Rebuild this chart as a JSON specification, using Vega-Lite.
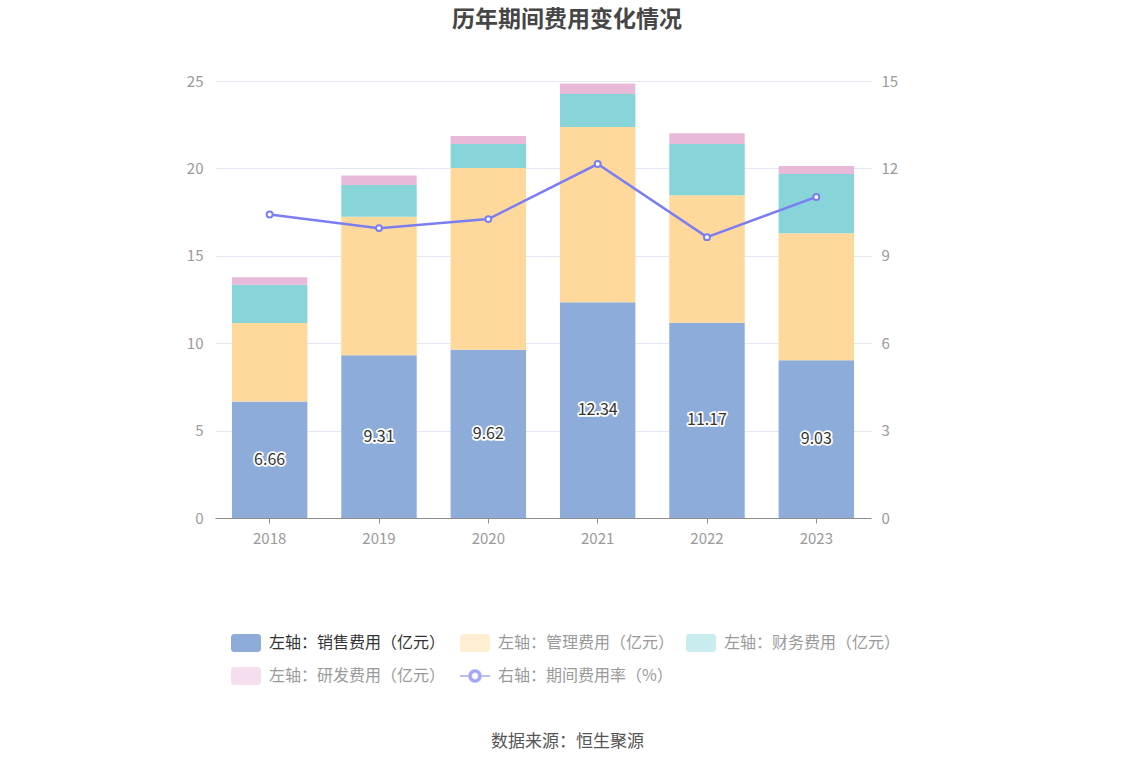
{
  "$schema": "https://vega.github.io/schema/vega-lite/v6.json",
  "autosize": {"type": "none"},
  "width": 656,
  "height": 437,
  "padding": {"left": 215, "top": 81, "right": 263, "bottom": 248},
  "background": "white",
  "config": {
    "view": {"stroke": null},
    "font": "Noto Sans CJK SC",
    "axis": {"labelFont": "Noto Sans CJK SC", "labelColor": "#9a9a9a", "labelFontSize": 15}
  },
  "title": {
    "text": "历年期间费用变化情况",
    "fontSize": 23,
    "fontWeight": "bold",
    "color": "#464646",
    "anchor": "middle",
    "dx": 24,
    "offset": 42
  },
  "datasets": {
    "costs": [
      {"year": "2018", "series": "左轴：销售费用（亿元）", "ord": 1, "value": 6.66},
      {"year": "2018", "series": "左轴：管理费用（亿元）", "ord": 2, "value": 4.49},
      {"year": "2018", "series": "左轴：财务费用（亿元）", "ord": 3, "value": 2.2},
      {"year": "2018", "series": "左轴：研发费用（亿元）", "ord": 4, "value": 0.43},
      {"year": "2019", "series": "左轴：销售费用（亿元）", "ord": 1, "value": 9.31},
      {"year": "2019", "series": "左轴：管理费用（亿元）", "ord": 2, "value": 7.93},
      {"year": "2019", "series": "左轴：财务费用（亿元）", "ord": 3, "value": 1.81},
      {"year": "2019", "series": "左轴：研发费用（亿元）", "ord": 4, "value": 0.54},
      {"year": "2020", "series": "左轴：销售费用（亿元）", "ord": 1, "value": 9.62},
      {"year": "2020", "series": "左轴：管理费用（亿元）", "ord": 2, "value": 10.4},
      {"year": "2020", "series": "左轴：财务费用（亿元）", "ord": 3, "value": 1.38},
      {"year": "2020", "series": "左轴：研发费用（亿元）", "ord": 4, "value": 0.46},
      {"year": "2021", "series": "左轴：销售费用（亿元）", "ord": 1, "value": 12.34},
      {"year": "2021", "series": "左轴：管理费用（亿元）", "ord": 2, "value": 10.03},
      {"year": "2021", "series": "左轴：财务费用（亿元）", "ord": 3, "value": 1.89},
      {"year": "2021", "series": "左轴：研发费用（亿元）", "ord": 4, "value": 0.59},
      {"year": "2022", "series": "左轴：销售费用（亿元）", "ord": 1, "value": 11.17},
      {"year": "2022", "series": "左轴：管理费用（亿元）", "ord": 2, "value": 7.29},
      {"year": "2022", "series": "左轴：财务费用（亿元）", "ord": 3, "value": 2.94},
      {"year": "2022", "series": "左轴：研发费用（亿元）", "ord": 4, "value": 0.61},
      {"year": "2023", "series": "左轴：销售费用（亿元）", "ord": 1, "value": 9.03},
      {"year": "2023", "series": "左轴：管理费用（亿元）", "ord": 2, "value": 7.26},
      {"year": "2023", "series": "左轴：财务费用（亿元）", "ord": 3, "value": 3.39},
      {"year": "2023", "series": "左轴：研发费用（亿元）", "ord": 4, "value": 0.46}
    ],
    "rate": [
      {"year": "2018", "series": "右轴：期间费用率（%）", "rate": 10.42},
      {"year": "2019", "series": "右轴：期间费用率（%）", "rate": 9.95},
      {"year": "2020", "series": "右轴：期间费用率（%）", "rate": 10.26},
      {"year": "2021", "series": "右轴：期间费用率（%）", "rate": 12.15},
      {"year": "2022", "series": "右轴：期间费用率（%）", "rate": 9.64},
      {"year": "2023", "series": "右轴：期间费用率（%）", "rate": 11.02}
    ]
  },
  "encoding": {
    "x": {
      "field": "year",
      "type": "nominal",
      "scale": {"paddingInner": 0.31, "paddingOuter": 0.155},
      "axis": {
        "labelAngle": 0,
        "labelPadding": 8,
        "domainColor": "#8c8c8c",
        "tickColor": "#8c8c8c",
        "tickSize": 5,
        "title": "数据来源：恒生聚源",
        "titleFontSize": 17,
        "titleFontWeight": "normal",
        "titleColor": "#555555",
        "titleX": 352,
        "titleY": 215
      }
    }
  },
  "layer": [
    {
      "data": {"name": "costs"},
      "mark": {"type": "bar"},
      "encoding": {
        "y": {
          "field": "value",
          "type": "quantitative",
          "stack": "zero",
          "scale": {"domain": [0, 25]},
          "axis": {
            "values": [0, 5, 10, 15, 20, 25],
            "title": null,
            "domain": false,
            "ticks": false,
            "labelPadding": 12,
            "gridColor": "#e3e7f1"
          }
        },
        "color": {
          "field": "series",
          "type": "nominal",
          "scale": {
            "domain": ["左轴：销售费用（亿元）", "左轴：管理费用（亿元）", "左轴：财务费用（亿元）", "左轴：研发费用（亿元）", "右轴：期间费用率（%）"],
            "range": ["#8eacda", "#ffd99c", "#87d5d9", "#e8b9d9", "#7b7ef2"]
          },
          "legend": {
            "orient": "none",
            "legendX": 15,
            "legendY": 546,
            "direction": "horizontal",
            "columns": 3,
            "title": null,
            "labelFontSize": 16,
            "labelLimit": 300,
            "labelOffset": 7,
            "columnPadding": 10,
            "rowPadding": 8,
            "symbolSize": 900,
            "symbolStrokeWidth": 2,
            "encode": {
              "symbols": {
                "update": {
                  "shape": {"signal": "datum.value === '右轴：期间费用率（%）' ? 'M-1,0H-0.4M0.4,0H1M-0.4,0A0.4,0.4 0 1 1 0.4,0A0.4,0.4 0 1 1 -0.4,0ZM-0.26,0A0.26,0.26 0 1 0 0.26,0A0.26,0.26 0 1 0 -0.26,0Z' : 'M-0.8,-0.6H0.8A0.2,0.2 0 0 1 1,-0.4V0.4A0.2,0.2 0 0 1 0.8,0.6H-0.8A0.2,0.2 0 0 1 -1,0.4V-0.4A0.2,0.2 0 0 1 -0.8,-0.6Z'"},
                  "fillOpacity": {"signal": "datum.value === '左轴：销售费用（亿元）' ? 1 : 0.45"},
                  "strokeOpacity": {"signal": "datum.value === '右轴：期间费用率（%）' ? 0.5 : 0"}
                }
              },
              "labels": {
                "update": {
                  "fill": {"signal": "datum.value === '左轴：销售费用（亿元）' ? '#333333' : '#9a9a9a'"}
                }
              }
            }
          }
        },
        "order": {"field": "ord", "type": "quantitative", "sort": "ascending"}
      }
    },
    {
      "data": {"name": "costs"},
      "transform": [
        {"filter": "datum.ord === 1"},
        {"calculate": "datum.value / 2", "as": "mid"}
      ],
      "mark": {"type": "text", "fontSize": 16, "stroke": "white", "strokeWidth": 3.5, "fill": "white", "strokeJoin": "round"},
      "encoding": {
        "y": {"field": "mid", "type": "quantitative", "scale": {"domain": [0, 25]}, "axis": null},
        "text": {"field": "value", "type": "quantitative", "format": ".2f"}
      }
    },
    {
      "data": {"name": "costs"},
      "transform": [
        {"filter": "datum.ord === 1"},
        {"calculate": "datum.value / 2", "as": "mid"}
      ],
      "mark": {"type": "text", "fontSize": 16, "fill": "#333333"},
      "encoding": {
        "y": {"field": "mid", "type": "quantitative", "scale": {"domain": [0, 25]}, "axis": null},
        "text": {"field": "value", "type": "quantitative", "format": ".2f"}
      }
    },
    {
      "data": {"name": "rate"},
      "mark": {
        "type": "line",
        "strokeWidth": 2.5,
        "point": {"filled": false, "fill": "white", "size": 35, "strokeWidth": 2}
      },
      "encoding": {
        "y": {
          "field": "rate",
          "type": "quantitative",
          "scale": {"domain": [0, 15]},
          "axis": {
            "orient": "right",
            "values": [0, 3, 6, 9, 12, 15],
            "title": null,
            "domain": false,
            "ticks": false,
            "grid": false,
            "labelPadding": 10
          }
        },
        "color": {"field": "series", "type": "nominal"}
      }
    }
  ],
  "resolve": {"scale": {"y": "independent"}}
}
